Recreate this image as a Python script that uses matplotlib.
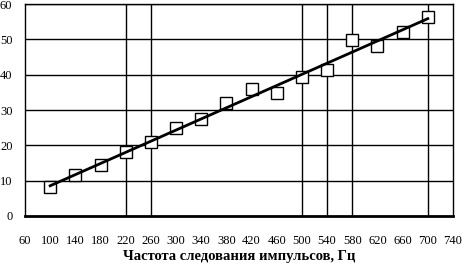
import numpy as np
import matplotlib
matplotlib.use("Agg")
import matplotlib.pyplot as plt

# pulse repetition rate (Hz) vs measured value
freq = [100, 140, 180, 220, 260, 300, 340, 380, 420, 460, 500, 540, 580, 620, 660, 700]
vals = [8.2, 11.5, 14.5, 18.0, 21.0, 25.0, 27.5, 32.0, 36.0, 34.8, 39.2, 41.3, 49.8, 48.0, 52.2, 56.3]
vgrid = [220, 260, 500, 540, 580, 700]
xticks = list(range(60, 741, 40))
yticks = list(range(0, 61, 10))

plt.rcParams["font.family"] = ["Liberation Serif", "DejaVu Serif"]

fig = plt.figure(figsize=(4.64, 2.66), dpi=100)
ax = fig.add_axes([25 / 464, 50 / 266, 428 / 464, 212 / 266])

for y in yticks[1:]:
    ax.axhline(y, color="black", lw=1, zorder=1)
for x in vgrid:
    ax.axvline(x, color="black", lw=1, zorder=1)

ax.plot(freq, vals, "s", ms=9, mfc="white", mec="black", mew=1, zorder=2)
k, b = np.polyfit(freq, vals, 1)
fx = np.array([freq[0], freq[-1]])
ax.plot(fx, k * fx + b, color="black", lw=2, zorder=3)

ax.set_xlim(60, 740)
ax.set_ylim(0, 60)
ax.set_xticks(xticks)
ax.set_yticks(yticks)
ax.tick_params(length=0, labelsize=9)
ax.tick_params(axis="x", pad=14)
ax.tick_params(axis="y", pad=9)
for s in ["top", "right"]:
    ax.spines[s].set_linewidth(1)
ax.spines["left"].set_linewidth(1)
ax.spines["bottom"].set_linewidth(2)
ax.set_xlabel("Частота следования импульсов, Гц", fontsize=10.5, fontweight="bold", labelpad=2)

fig.savefig("out.png", dpi=100)
